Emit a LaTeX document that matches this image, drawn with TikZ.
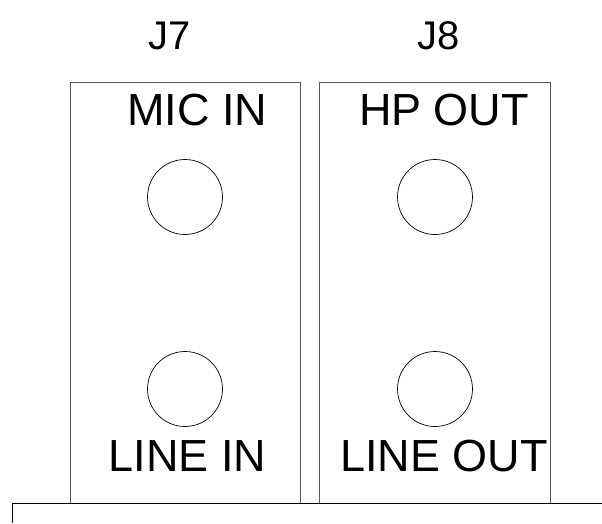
\documentclass[tikz,border=0pt]{standalone}
\usepackage{fontspec}
\setmainfont{Liberation Sans}
\begin{document}
\begin{tikzpicture}[x=1pt,y=-1pt,
  panel/.style={draw=black!65,line width=0.9pt},
  jack/.style={draw=black,line width=0.7pt,circle,minimum size=75pt,inner sep=0pt},
  biglabel/.style={font=\fontsize{45}{45}\selectfont,inner sep=0pt,anchor=base},
  jlabel/.style={font=\fontsize{40}{40}\selectfont,inner sep=0pt,anchor=base}]
\useasboundingbox (0,0) rectangle (602,523);
% panels
\draw[panel] (70,82) rectangle (300,503);
\draw[panel] (319,82) rectangle (550,503);
% base line
\draw[draw=black,line width=0.9pt] (12,523) -- (12,503) -- (602,503);
% jacks
\node[jack] (micj) at (185,197) {};
\node[jack] (linej) at (185,389) {};
\node[jack] (hpj) at (435,197) {};
\node[jack] (lineoj) at (435,389) {};
% labels
\node[jlabel] (j7) at (170,49) {J7};
\node[jlabel] (j8) at (439,49) {J8};
\node[biglabel] (mic) at (197.5,125.7) {MIC IN};
\node[biglabel] (hp) at (444,125.7) {HP OUT};
\node[biglabel] (li) at (187.5,471.7) {LINE IN};
\node[biglabel] (lo) at (444,471.7) {LINE OUT};
\end{tikzpicture}
\end{document}
